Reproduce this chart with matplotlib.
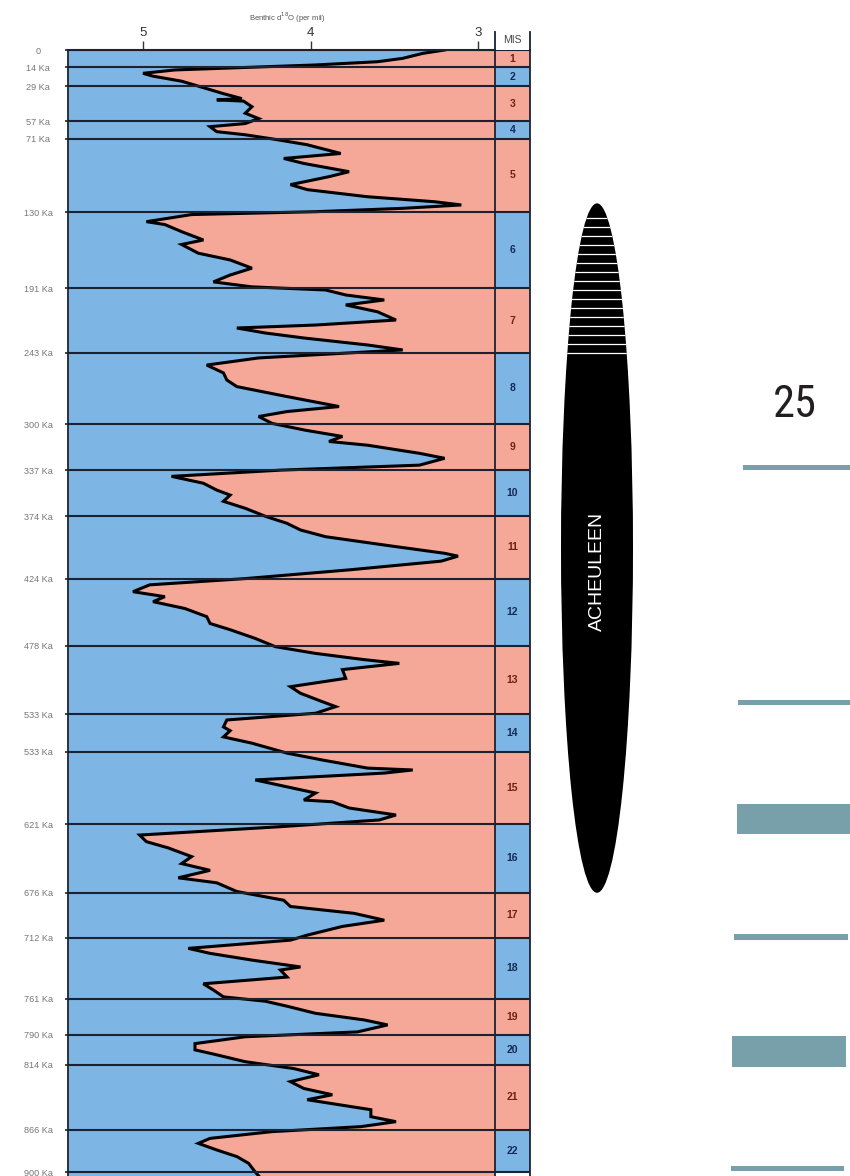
import matplotlib
matplotlib.use("Agg")
import matplotlib.pyplot as plt
from matplotlib.patches import Ellipse, Rectangle
from matplotlib import font_manager as fm
import numpy as np

# ---------------- data ----------------
age_ka = [0, 2.7, 6.7, 9.4, 12, 14, 16, 18.7, 21, 25, 29, 35, 39, 40, 41, 45.5, 50.7, 55, 59, 61.5,
          65.5, 68, 71.7, 76, 83, 87, 91, 97.6, 101.6, 108, 112, 117.7, 121.7, 124.3, 127, 129.7,
          132, 137.7, 140, 145.7, 152.4, 156, 163, 168.4, 175, 180.5, 186, 190, 192.5, 196.5,
          200.5, 204.5, 210, 216.6, 220.6, 223, 227, 231, 236.6, 240.6, 243, 247, 252.7, 259,
          264.7, 270, 278, 286, 290, 294, 299.5, 305, 310, 314, 317, 323.5, 327.5, 333, 337, 342,
          347.5, 353, 357, 362, 367.6, 374, 379.7, 385, 390.4, 398, 403.7, 406, 410, 417, 424,
          429, 434.5, 438.5, 442.5, 448, 454.5, 460, 465, 472, 478.6, 484, 489, 492, 497, 504,
          510.7, 516, 522.7, 526.7, 532, 537.4, 543, 546, 551, 556, 564, 569.5, 576, 577.5, 580,
          585.5, 591, 596, 601.6, 603, 608, 613.6, 617.6, 623, 629.7, 635, 640, 647, 652.6, 658,
          664, 668, 675, 682, 687, 692.5, 698, 703, 710, 714, 720.6, 724.6, 730, 735.5, 738,
          743.6, 749, 754, 759.5, 763, 767, 772.7, 778, 782, 787.6, 791.5, 797, 802, 806, 811.5,
          817, 822, 827.5, 833, 838, 842, 850, 855.6, 859.6, 863.6, 867.6, 873, 877, 882.3,
          887.6, 893, 900, 903]
d18o = [3.20, 3.33, 3.45, 3.60, 3.97, 4.39, 4.81, 5.00, 4.94, 4.77, 4.67, 4.52, 4.41, 4.56, 4.40,
        4.35, 4.39, 4.31, 4.39, 4.60, 4.56, 4.39, 4.21, 4.02, 3.82, 4.16, 4.04, 3.77, 3.89, 4.12,
        4.02, 3.66, 3.26, 3.10, 3.45, 3.97, 4.71, 4.98, 4.87, 4.77, 4.64, 4.77, 4.67, 4.48, 4.35,
        4.48, 4.58, 4.35, 3.91, 3.79, 3.56, 3.79, 3.60, 3.49, 3.97, 4.44, 4.27, 4.04, 3.66, 3.45,
        3.77, 4.31, 4.62, 4.52, 4.50, 4.44, 4.14, 3.83, 4.14, 4.31, 4.23, 4.03, 3.81, 3.89, 3.66,
        3.35, 3.20, 3.35, 4.18, 4.83, 4.64, 4.56, 4.48, 4.52, 4.39, 4.27, 4.14, 4.06, 3.91, 3.51,
        3.20, 3.12, 3.22, 3.77, 4.39, 4.96, 5.06, 4.87, 4.94, 4.75, 4.62, 4.60, 4.48, 4.33, 4.21,
        3.97, 3.68, 3.47, 3.81, 3.79, 4.12, 4.06, 3.93, 3.85, 3.97, 4.50, 4.52, 4.48, 4.52, 4.35,
        4.14, 3.93, 3.66, 3.39, 3.56, 4.33, 4.14, 3.97, 4.04, 3.87, 3.77, 3.49, 3.59, 4.18, 5.02,
        4.98, 4.85, 4.71, 4.77, 4.60, 4.79, 4.56, 4.44, 4.16, 4.12, 3.74, 3.56, 3.81, 4.02, 4.12,
        4.73, 4.60, 4.35, 4.06, 4.18, 4.14, 4.64, 4.58, 4.52, 4.27, 4.14, 3.97, 3.68, 3.54, 3.72,
        4.39, 4.69, 4.69, 4.56, 4.39, 4.10, 3.95, 4.12, 4.04, 3.87, 4.02, 3.64, 3.64, 3.49, 3.70,
        4.23, 4.60, 4.67, 4.56, 4.44, 4.37, 4.33, 4.31]

boundaries_ka = [0, 14, 29, 57, 71, 130, 191, 243, 300, 337, 374, 424, 478, 533, 563, 621,
                 676, 712, 761, 790, 814, 866, 900]
boundary_labels = ["0", "14 Ka", "29 Ka", "57 Ka", "71 Ka", "130 Ka", "191 Ka", "243 Ka",
                   "300 Ka", "337 Ka", "374 Ka", "424 Ka", "478 Ka", "533 Ka", "533 Ka",
                   "621 Ka", "676 Ka", "712 Ka", "761 Ka", "790 Ka", "814 Ka", "866 Ka", "900 Ka"]
mis_stages = [str(i) for i in range(1, 23)]
x_ticks = [5, 4, 3]
x_tick_labels = ["5", "4", "3"]
acheulean_range_ka = [123, 676]
acheulean_striped_until_ka = 243
teal_marks_ka = [(333, 337), (521, 525), (605, 629), (709, 713.5), (791, 816), (895, 899)]
page_number = "25"

# ---------------- styling ----------------
BLUE = "#7db5e5"
PINK = "#f5a898"
LINE = "#1d2230"
TEAL = "#78a0aa"
W, H = 850, 1176
plt.rcParams['font.family'] = ['Liberation Sans', 'DejaVu Sans']

names = {f.name for f in fm.fontManager.ttflist}
num_font = 'Roboto Condensed' if 'Roboto Condensed' in names else 'Roboto'

fig = plt.figure(figsize=(W / 100, H / 100), dpi=100)
fig.patch.set_facecolor('white')

TOP = 50
YMAX = (H - TOP) / 1.2467
XL, XR = 5.448, 2.899
ax_h = (H - TOP) / H

# main panel
ax = fig.add_axes([68 / W, 0, (495 - 68) / W, ax_h])
ax.set_xlim(XL, XR)
ax.set_ylim(YMAX, 0)
ax.fill_betweenx(age_ka, XL, d18o, color=BLUE, lw=0)
ax.fill_betweenx(age_ka, d18o, XR, color=PINK, lw=0)
ax.plot(d18o, age_ka, color='black', lw=2.2, solid_joinstyle='miter')
for b in boundaries_ka:
    ax.axhline(b, color=LINE, lw=1.5, zorder=3)
ax.xaxis.set_ticks_position('top')
ax.set_xticks(x_ticks)
ax.set_xticklabels(x_tick_labels)
ax.tick_params(axis='x', length=6.5, width=1, color='#333333', labelsize=9.5, pad=1.5,
               labelcolor='#333333')
ax.set_yticks(boundaries_ka)
ax.set_yticklabels(boundary_labels)
ax.tick_params(axis='y', length=2.5, width=1.2, color=LINE, labelsize=6.6, pad=19,
               labelcolor='#777777')
for lbl in ax.get_yticklabels():
    lbl.set_horizontalalignment('center')
for s in ['right', 'bottom']:
    ax.spines[s].set_visible(False)
ax.spines['left'].set_color(LINE)
ax.spines['left'].set_linewidth(1.3)
ax.spines['top'].set_color(LINE)
ax.spines['top'].set_linewidth(1.5)

fig.text(287 / W, 1 - 18 / H, r"Benthic d$^{18}$O (per mil)", fontsize=5.5, color='#555555',
         ha='center', va='center')

# MIS column
ax_m = fig.add_axes([495 / W, 0, 35 / W, ax_h])
ax_m.set_xlim(0, 1)
ax_m.set_ylim(YMAX, 0)
for i, st in enumerate(mis_stages):
    top, bot = boundaries_ka[i], boundaries_ka[i + 1]
    odd = int(st) % 2 == 1
    ax_m.axhspan(top, bot, color=PINK if odd else BLUE, lw=0)
    ax_m.text(0.5, (top + bot) / 2, st, ha='center', va='center', fontsize=7.5,
              fontweight='bold', color='#6e2015' if odd else '#132a55')
for b in boundaries_ka:
    ax_m.axhline(b, color=LINE, lw=1.5, zorder=3)
ax_m.set_xticks([])
ax_m.set_yticks([])
for s in ['top', 'bottom']:
    ax_m.spines[s].set_visible(False)
for s in ['left', 'right']:
    ax_m.spines[s].set_color(LINE)
    ax_m.spines[s].set_linewidth(1.3)
ext = 18 / (H - TOP)
for xx in (0, 1):
    ax_m.plot([xx, xx], [1, 1 + ext], transform=ax_m.transAxes, clip_on=False,
              color=LINE, lw=1.3)
ax_m.text(0.5, 1 + 10 / (H - TOP), "MIS", transform=ax_m.transAxes, ha='center',
          va='center', fontsize=7.5, color='#444444')

# right decorations
ax_r = fig.add_axes([540 / W, 0, (W - 540) / W, ax_h])
ax_r.set_xlim(540, W)
ax_r.set_ylim(YMAX, 0)
ax_r.axis('off')
a0, a1 = acheulean_range_ka
ell = Ellipse((597, (a0 + a1) / 2), 72, a1 - a0, facecolor='black', edgecolor='none')
ax_r.add_patch(ell)
for s in np.linspace(135, acheulean_striped_until_ka, 16):
    ln = ax_r.axhline(s, color='white', lw=0.9)
    ln.set_clip_path(ell)
ax_r.text(597, 418, "ACHEULEEN", rotation=90, color='white', fontsize=14,
          ha='center', va='center')

x_starts = [743, 738, 737, 734, 732, 731]
x_ends = [850, 850, 850, 848, 846, 844]
for (k0, k1), xs, xe in zip(teal_marks_ka, x_starts, x_ends):
    ax_r.add_patch(Rectangle((xs, k0), xe - xs, k1 - k0, facecolor=TEAL, edgecolor='none'))

fig.text(795 / W, 1 - 405 / H, page_number, fontsize=32, color='#231f20', ha='center',
         va='center', family=num_font)

fig.savefig("out.png", dpi=100, facecolor='white')
